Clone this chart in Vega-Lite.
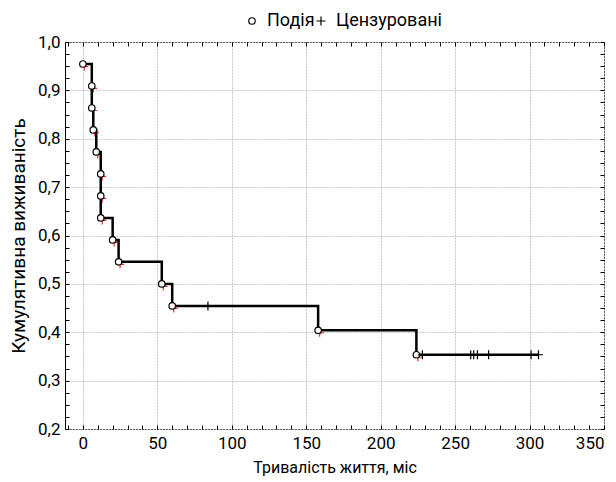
{
  "$schema": "https://vega.github.io/schema/vega-lite/v6.json",
  "width": 539,
  "height": 387,
  "autosize": {"type": "none"},
  "padding": {"left": 65, "top": 42, "right": 12, "bottom": 53},
  "background": "white",
  "data": {"values": [
    {"i": 1, "t": 0, "s": 0.9545, "type": "Подія"},
    {"i": 2, "t": 6, "s": 0.9091, "type": "Подія"},
    {"i": 3, "t": 6, "s": 0.8636, "type": "Подія"},
    {"i": 4, "t": 7, "s": 0.8182, "type": "Подія"},
    {"i": 5, "t": 9, "s": 0.7727, "type": "Подія"},
    {"i": 6, "t": 12, "s": 0.7273, "type": "Подія"},
    {"i": 7, "t": 12, "s": 0.6818, "type": "Подія"},
    {"i": 8, "t": 12, "s": 0.6364, "type": "Подія"},
    {"i": 9, "t": 20, "s": 0.5909, "type": "Подія"},
    {"i": 10, "t": 24, "s": 0.5455, "type": "Подія"},
    {"i": 11, "t": 53, "s": 0.5, "type": "Подія"},
    {"i": 12, "t": 60, "s": 0.4545, "type": "Подія"},
    {"i": 13, "t": 84, "s": 0.4545, "type": "Цензуровані"},
    {"i": 14, "t": 158, "s": 0.404, "type": "Подія"},
    {"i": 15, "t": 224, "s": 0.3535, "type": "Подія"},
    {"i": 16, "t": 228, "s": 0.3535, "type": "Цензуровані"},
    {"i": 17, "t": 260.5, "s": 0.3535, "type": "Цензуровані"},
    {"i": 18, "t": 262.5, "s": 0.3535, "type": "Цензуровані"},
    {"i": 19, "t": 265, "s": 0.3535, "type": "Цензуровані"},
    {"i": 20, "t": 272.5, "s": 0.3535, "type": "Цензуровані"},
    {"i": 21, "t": 301, "s": 0.3535, "type": "Цензуровані"},
    {"i": 22, "t": 306, "s": 0.3535, "type": "Цензуровані"}
  ]},
  "resolve": {"axis": {"x": "independent", "y": "independent"}},
  "layer": [
    {
      "transform": [{"filter": "datum.type === 'Подія'"}],
      "mark": {"type": "point", "shape": "M-1,0L1,0M0,-1L0,1", "stroke": "#e3342b", "strokeWidth": 1.2, "size": 64, "yOffset": 2.5, "xOffset": 1.5, "filled": false, "opacity": 1},
      "encoding": {
        "x": {"field": "t", "type": "quantitative", "scale": {"domain": [-12, 350], "nice": false, "zero": false},
          "axis": {"orient": "bottom", "title": "Тривалість життя, міс",
            "values": [-10,0,10,20,30,40,50,60,70,80,90,100,110,120,130,140,150,160,170,180,190,200,210,220,230,240,250,260,270,280,290,300,310,320,330,340,350],
            "format": "d",
            "labelExpr": "datum.value % 50 === 0 ? datum.label : ''",
            "grid": true,
            "gridOpacity": {"condition": {"test": "datum.value % 50 === 0", "value": 1}, "value": 0},
            "gridColor": "#c8c8c8", "gridDash": [2, 1],
            "tickSize": -4, "labelPadding": 10, "titlePadding": 8, "titleFontSize": 16, "domain": false}},
        "y": {"field": "s", "type": "quantitative", "scale": {"domain": [0.2, 1.0], "nice": false, "zero": false},
          "axis": {"orient": "left", "title": "Кумулятивна  виживаність",
            "values": [0.2,0.225,0.25,0.275,0.3,0.325,0.35,0.375,0.4,0.425,0.45,0.475,0.5,0.525,0.55,0.575,0.6,0.625,0.65,0.675,0.7,0.725,0.75,0.775,0.8,0.825,0.85,0.875,0.9,0.925,0.95,0.975,1.0],
            "labelExpr": "abs(datum.value * 10 - round(datum.value * 10)) < 0.001 ? replace(format(datum.value, '.1f'), '.', ',') : ''",
            "grid": true,
            "gridOpacity": {"condition": {"test": "abs(datum.value * 10 - round(datum.value * 10)) < 0.001", "value": 1}, "value": 0},
            "gridColor": "#c8c8c8", "gridDash": [2, 1],
            "tickSize": -4, "labelPadding": 9, "titlePadding": 9, "titleFontSize": 19, "domain": false}}
      }
    },
    {
      "mark": {"type": "line", "interpolate": "step-after", "color": "black", "strokeWidth": 2.5},
      "encoding": {
        "x": {"field": "t", "type": "quantitative", "scale": {"domain": [-12, 350], "nice": false, "zero": false}, "axis": null},
        "y": {"field": "s", "type": "quantitative", "scale": {"domain": [0.2, 1.0], "nice": false, "zero": false}, "axis": null},
        "order": {"field": "i", "type": "quantitative"}
      }
    },
    {
      "mark": {"type": "point", "filled": true, "strokeWidth": 1.2, "opacity": 1},
      "encoding": {
        "x": {"field": "t", "type": "quantitative", "scale": {"domain": [-12, 350], "nice": false, "zero": false},
          "axis": {"orient": "top", "title": null, "labels": false, "grid": false, "domain": false, "tickSize": -4,
            "values": [-10,0,10,20,30,40,50,60,70,80,90,100,110,120,130,140,150,160,170,180,190,200,210,220,230,240,250,260,270,280,290,300,310,320,330,340,350]}},
        "y": {"field": "s", "type": "quantitative", "scale": {"domain": [0.2, 1.0], "nice": false, "zero": false},
          "axis": {"orient": "right", "title": null, "labels": false, "grid": false, "domain": false, "tickSize": -4,
            "values": [0.2,0.225,0.25,0.275,0.3,0.325,0.35,0.375,0.4,0.425,0.45,0.475,0.5,0.525,0.55,0.575,0.6,0.625,0.65,0.675,0.7,0.725,0.75,0.775,0.8,0.825,0.85,0.875,0.9,0.925,0.95,0.975,1.0]}},
        "shape": {"field": "type", "type": "nominal", "title": null,
          "scale": {"domain": ["Подія", "Цензуровані"], "range": ["circle", "M-1,0L1,0M0,-1L0,1"]}},
        "size": {"field": "type", "type": "nominal", "title": null,
          "scale": {"domain": ["Подія", "Цензуровані"], "range": [42, 81]}},
        "fill": {"field": "type", "type": "nominal", "title": null,
          "scale": {"domain": ["Подія", "Цензуровані"], "range": ["white", "white"]}},
        "stroke": {"field": "type", "type": "nominal", "title": null,
          "scale": {"domain": ["Подія", "Цензуровані"], "range": ["black", "black"]}}
      }
    }
  ],
  "config": {
    "font": "Roboto",
    "view": {"stroke": "black", "strokeWidth": 1},
    "axis": {
      "labelFont": "Roboto", "labelFontSize": 17, "labelColor": "black",
      "titleFont": "Roboto", "titleFontSize": 18, "titleColor": "black", "titleFontWeight": "normal",
      "tickColor": "black", "tickWidth": 1
    },
    "legend": {
      "orient": "none", "legendX": 178, "legendY": -30, "direction": "horizontal",
      "labelFont": "Roboto", "labelFontSize": 18, "labelColor": "black",
      "symbolStrokeWidth": 1.2, "labelOffset": 6, "columnPadding": -3, "gridAlign": "none"
    }
  }
}
